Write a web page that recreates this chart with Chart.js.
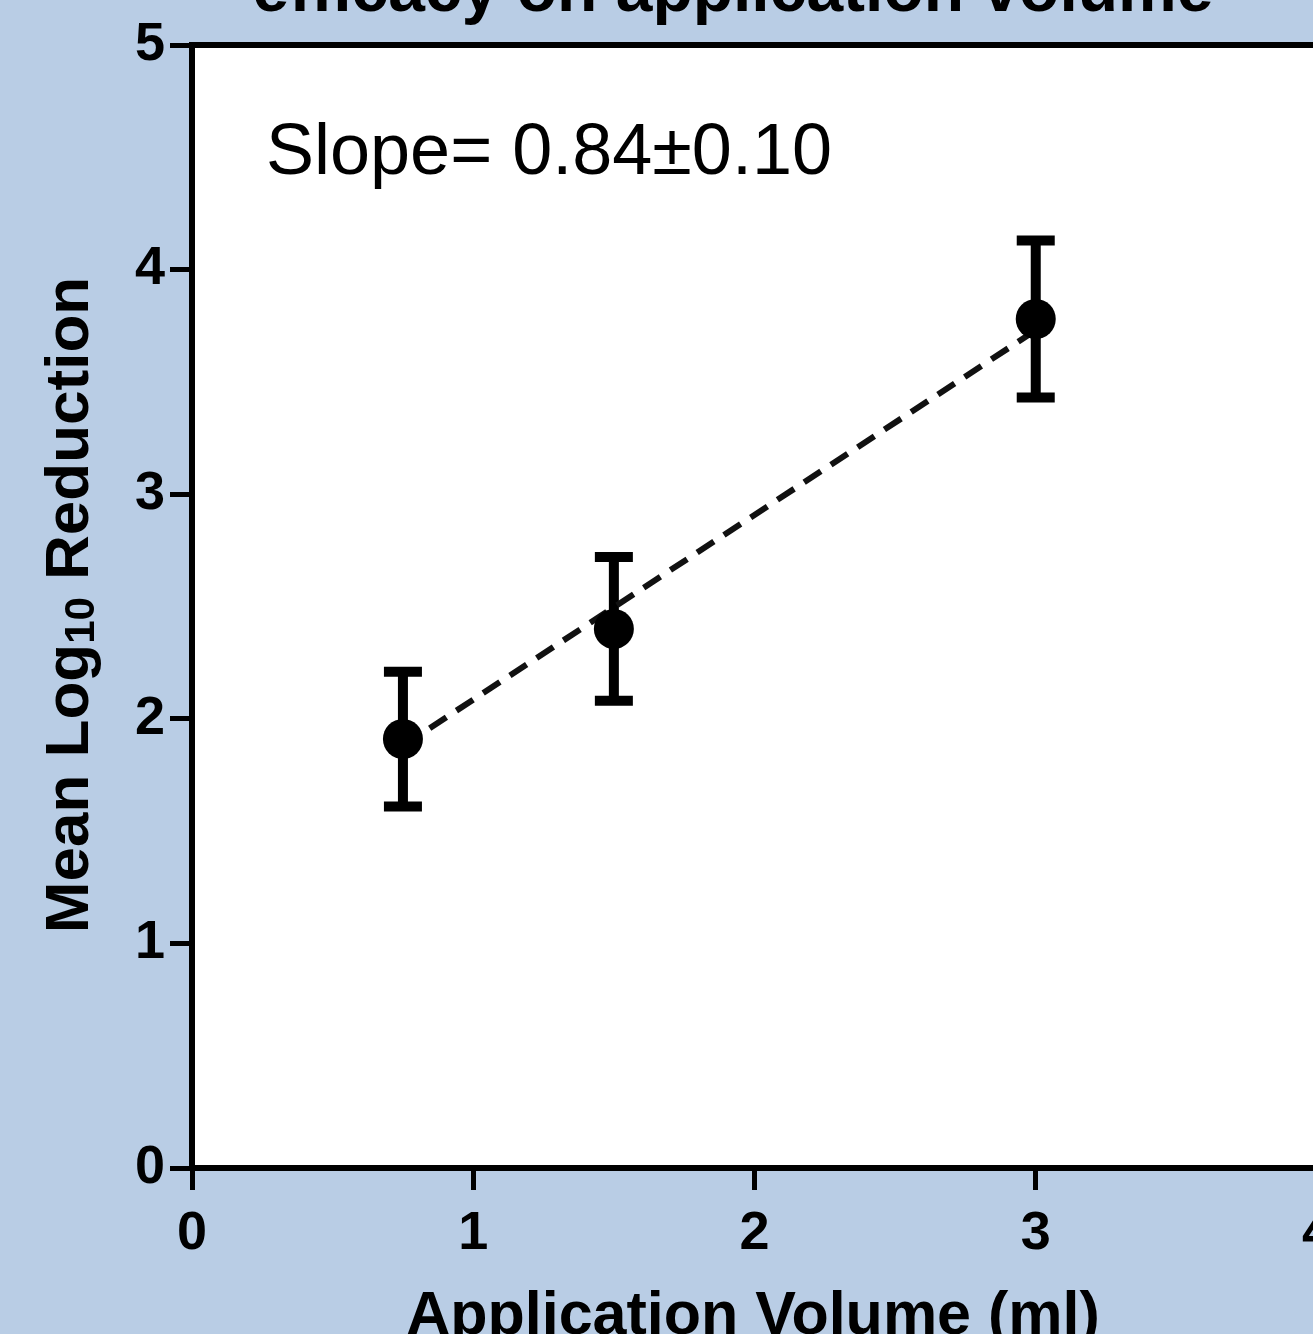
<!DOCTYPE html>
<html>
<head>
<meta charset="utf-8">
<script src="https://cdn.jsdelivr.net/npm/chart.js@4.4.0/dist/chart.umd.min.js"></script>
<style>
    html, body { margin: 0; padding: 0; overflow: hidden; background: #b9cde5; }
    #wrap { position: absolute; left: 0; top: 0; width: 1344px; height: 1360px; }
</style>
</head>
<body>
<div id="wrap"><canvas id="volumeChart" width="1344" height="1360"></canvas></div>
<script>
// Data
const volumes = [0.75, 1.5, 3];
const meanReduction = [1.91, 2.40, 3.78];
const upperBar = [2.21, 2.72, 4.13];
const lowerBar = [1.61, 2.08, 3.43];
const fitX = [0.75, 3];
const fitY = [1.88, 3.73];
const xTicks = [0, 1, 2, 3, 4];
const yTicks = [0, 1, 2, 3, 4, 5];

const titleText = 'efficacy on application volume';
const xTitle = 'Application Volume (ml)';
const slopeText = 'Slope= 0.84\u00b10.10';

const FONT = "'Liberation Sans', Arial, sans-serif";

// White plot area + box frame
const plotBox = {
    id: 'plotBox',
    beforeDraw(chart) {
        const a = chart.chartArea;
        const ctx = chart.ctx;
        ctx.save();
        ctx.fillStyle = '#ffffff';
        ctx.fillRect(a.left, a.top, a.right - a.left, a.bottom - a.top);
        ctx.restore();
    },
    afterDraw(chart) {
        const a = chart.chartArea;
        const ctx = chart.ctx;
        ctx.save();
        ctx.strokeStyle = '#000';
        ctx.lineWidth = 6;
        ctx.beginPath();
        ctx.moveTo(a.left, a.top);
        ctx.lineTo(a.right, a.top);
        ctx.lineTo(a.right, a.bottom);
        ctx.stroke();
        ctx.restore();
    }
};

// Error bars drawn under the markers
const errorBars = {
    id: 'errorBars',
    beforeDatasetsDraw(chart) {
        const ctx = chart.ctx;
        const xs = chart.scales.x, ys = chart.scales.y;
        ctx.save();
        ctx.strokeStyle = '#000';
        ctx.lineWidth = 10;
        ctx.lineCap = 'butt';
        volumes.forEach((v, i) => {
            const px = xs.getPixelForValue(v);
            const top = ys.getPixelForValue(upperBar[i]);
            const bot = ys.getPixelForValue(lowerBar[i]);
            ctx.beginPath();
            ctx.moveTo(px, top);
            ctx.lineTo(px, bot);
            ctx.moveTo(px - 19, top);
            ctx.lineTo(px + 19, top);
            ctx.moveTo(px - 19, bot);
            ctx.lineTo(px + 19, bot);
            ctx.stroke();
        });
        ctx.restore();
    }
};

// Texts: title, y-axis title with subscript, x-axis title, slope note
const labels = {
    id: 'labels',
    afterDraw(chart) {
        const ctx = chart.ctx;
        ctx.save();
        ctx.fillStyle = '#000';

        ctx.font = 'bold 66px ' + FONT;
        ctx.textAlign = 'center';
        ctx.textBaseline = 'alphabetic';
        ctx.fillText(titleText, 733, 11);

        ctx.font = 'bold 61px ' + FONT;
        ctx.fillText(xTitle, 753, 1334);

        ctx.font = '72px ' + FONT;
        ctx.textAlign = 'left';
        ctx.fillText(slopeText, 266, 174);

        // rotated y title
        const partA = 'Mean Log', sub = '10', partB = ' Reduction';
        ctx.font = 'bold 62px ' + FONT;
        const wA = ctx.measureText(partA).width;
        const wB = ctx.measureText(partB).width;
        ctx.font = 'bold 42px ' + FONT;
        const wS = ctx.measureText(sub).width;
        const total = wA + wS + wB;
        ctx.translate(88, 605);
        ctx.rotate(-Math.PI / 2);
        let x = -total / 2;
        ctx.font = 'bold 62px ' + FONT;
        ctx.fillText(partA, x, 0);
        x += wA;
        ctx.font = 'bold 42px ' + FONT;
        ctx.fillText(sub, x, 6);
        x += wS;
        ctx.font = 'bold 62px ' + FONT;
        ctx.fillText(partB, x, 0);
        ctx.restore();
    }
};

const ctx = document.getElementById('volumeChart').getContext('2d');
new Chart(ctx, {
    type: 'scatter',
    data: {
        datasets: [
            {
                label: 'Fit',
                data: fitX.map((x, i) => ({ x: x, y: fitY[i] })),
                showLine: true,
                borderColor: '#111',
                borderWidth: 6,
                borderDash: [20, 12],
                pointRadius: 0,
                order: 2
            },
            {
                label: 'Mean',
                data: volumes.map((x, i) => ({ x: x, y: meanReduction[i] })),
                pointRadius: 20,
                pointBackgroundColor: '#000',
                pointBorderWidth: 0,
                order: 1
            }
        ]
    },
    options: {
        responsive: false,
        animation: false,
        devicePixelRatio: 1,
        layout: { padding: { top: 45, right: 22, left: 0, bottom: 0 } },
        plugins: {
            legend: { display: false },
            tooltip: { enabled: false }
        },
        scales: {
            x: {
                type: 'linear',
                min: 0,
                max: 4,
                afterFit(scale) { scale.height = 192; },
                afterBuildTicks(scale) { scale.ticks = xTicks.map(v => ({ value: v })); },
                grid: { drawOnChartArea: false, drawTicks: true, tickLength: 22, tickWidth: 5, tickColor: '#000' },
                border: { display: true, color: '#000', width: 6 },
                ticks: {
                    color: '#000',
                    padding: 12,
                    font: { family: FONT, weight: 'bold', size: 54 }
                }
            },
            y: {
                type: 'linear',
                min: 0,
                max: 5,
                afterFit(scale) { scale.width = 192; },
                afterBuildTicks(scale) { scale.ticks = yTicks.map(v => ({ value: v })); },
                grid: { drawOnChartArea: false, drawTicks: true, tickLength: 22, tickWidth: 5, tickColor: '#000' },
                border: { display: true, color: '#000', width: 6 },
                ticks: {
                    color: '#000',
                    padding: 5,
                    font: { family: FONT, weight: 'bold', size: 54 }
                }
            }
        }
    },
    plugins: [plotBox, errorBars, labels]
});
</script>
</body>
</html>
